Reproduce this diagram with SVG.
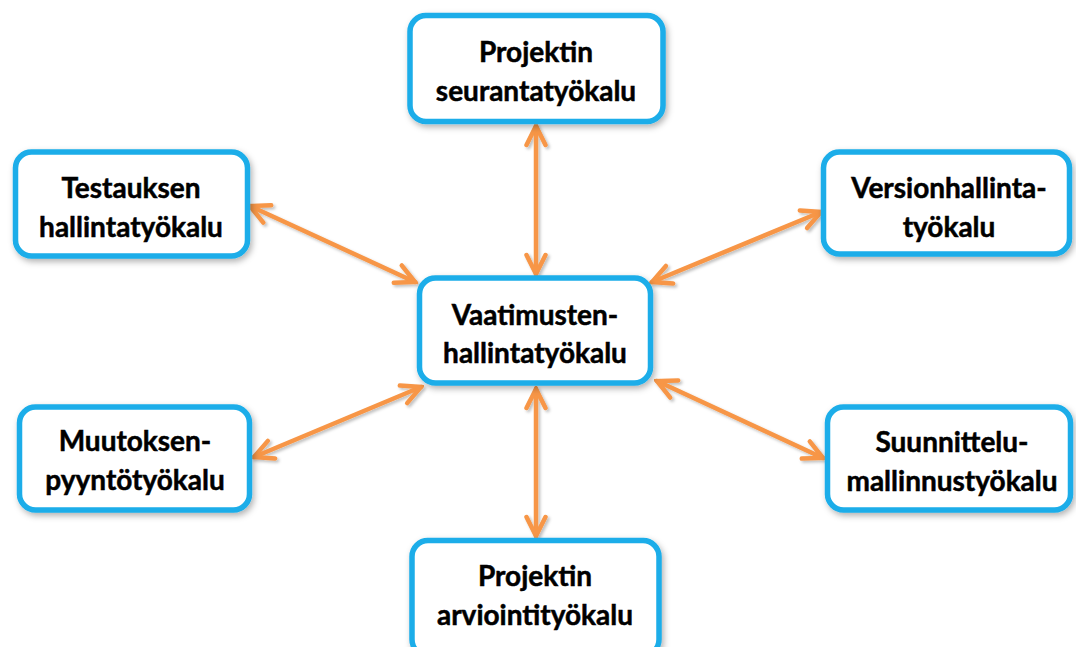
<svg xmlns="http://www.w3.org/2000/svg" width="1076" height="647" viewBox="0 0 1076 647">
  <defs>
    <filter id="sh" x="-20%" y="-20%" width="140%" height="140%">
      <feDropShadow dx="2" dy="3" stdDeviation="3" flood-color="#000" flood-opacity="0.3"/>
    </filter>
    <filter id="ash" x="-20%" y="-20%" width="140%" height="140%">
      <feDropShadow dx="2" dy="2" stdDeviation="1.5" flood-color="#000" flood-opacity="0.25"/>
    </filter>
    <marker id="ah" viewBox="0 0 26 24" refX="23" refY="12" markerWidth="26" markerHeight="24" markerUnits="userSpaceOnUse" orient="auto-start-reverse">
      <path d="M4,2.5 L23,12 L4,21.5" fill="none" stroke="#F79646" stroke-width="4.5" stroke-linecap="round" stroke-linejoin="miter"/>
    </marker>
    <style>
      .box { fill: #ffffff; stroke: #1AADE9; stroke-width: 5.5; }
      .lbl { font-family: Lato, "Liberation Sans", sans-serif; font-weight: bold; font-size: 28px; fill: #000; stroke: #000; stroke-width: 0.5; text-anchor: middle; }
      .con { stroke: #F79646; stroke-width: 4.5; fill: none; stroke-linecap: round; marker-start: url(#ah); marker-end: url(#ah); }
    </style>
  </defs>
  <rect width="1076" height="647" fill="#ffffff"/>

  <g id="connectors" filter="url(#ash)">
    <line class="con" x1="536" y1="126" x2="536" y2="274"/>
    <line class="con" x1="536" y1="389" x2="536" y2="536"/>
    <line class="con" x1="250" y1="206" x2="415" y2="282"/>
    <line class="con" x1="821" y1="212" x2="652" y2="282"/>
    <line class="con" x1="254" y1="457" x2="421" y2="387"/>
    <line class="con" x1="657" y1="381" x2="823" y2="458"/>
  </g>

  <g id="projektin-seuranta">
    <rect class="box" x="410" y="15.5" width="253" height="106" rx="16" filter="url(#sh)"/>
    <text class="lbl" x="536" y="62">Projektin</text>
    <text class="lbl" x="536" y="101">seurantatyökalu</text>
  </g>

  <g id="testauksen">
    <rect class="box" x="15.5" y="152" width="232" height="104" rx="16" filter="url(#sh)"/>
    <text class="lbl" x="131" y="198">Testauksen</text>
    <text class="lbl" x="131" y="237">hallintatyökalu</text>
  </g>

  <g id="versionhallinta">
    <rect class="box" x="823.5" y="152" width="246" height="102" rx="16" filter="url(#sh)"/>
    <text class="lbl" x="949" y="198">Versionhallinta-</text>
    <text class="lbl" x="949" y="237">työkalu</text>
  </g>

  <g id="vaatimusten">
    <rect class="box" x="419.5" y="278" width="231" height="105" rx="16" filter="url(#sh)"/>
    <text class="lbl" x="535" y="325">Vaatimusten-</text>
    <text class="lbl" x="535" y="363">hallintatyökalu</text>
  </g>

  <g id="muutoksen">
    <rect class="box" x="19.5" y="407" width="230" height="103" rx="16" filter="url(#sh)"/>
    <text class="lbl" x="135" y="451">Muutoksen-</text>
    <text class="lbl" x="135" y="490">pyyntötyökalu</text>
  </g>

  <g id="suunnittelu">
    <rect class="box" x="827.5" y="407" width="243" height="103" rx="16" filter="url(#sh)"/>
    <text class="lbl" x="952" y="452">Suunnittelu-</text>
    <text class="lbl" x="952" y="491">mallinnustyökalu</text>
  </g>

  <g id="projektin-arviointi">
    <rect class="box" x="412" y="540.5" width="247" height="115" rx="16" filter="url(#sh)"/>
    <text class="lbl" x="535" y="586">Projektin</text>
    <text class="lbl" x="535" y="625">arviointityökalu</text>
  </g>
</svg>
